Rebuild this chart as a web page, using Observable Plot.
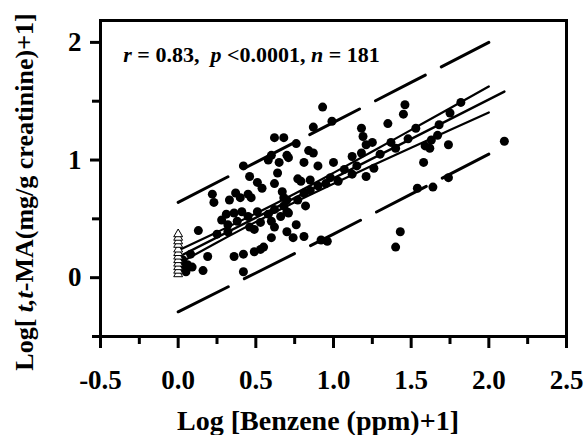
<!DOCTYPE html>
<html>
<head>
<meta charset="utf-8">
<script src="https://cdn.jsdelivr.net/npm/d3@7"></script>
<script src="https://cdn.jsdelivr.net/npm/@observablehq/plot@0.6"></script>
<style>
  html, body { margin: 0; padding: 0; background: #fff; }
  #chart svg { display: block; }
</style>
</head>
<body>
<div id="chart"></div>
<script>
// Filled circles: exposed workers (Log benzene+1, Log t,t-MA+1)
const dotX = [0.93,0.99,0.87,0.68,0.62,0.76,1.18,1.35,1.46,1.45,1.19,1.21,1.25,0.70,0.84,0.87,0.81,0.90,1.00,1.12,
  1.18,1.53,1.59,1.62,1.58,1.74,1.82,1.75,1.67,1.63,1.37,2.10,1.26,1.21,1.07,1.12,0.98,0.85,0.77,1.03,
  0.81,0.82,0.67,0.68,0.70,0.76,0.70,0.74,0.81,0.92,0.96,1.54,1.64,1.74,1.43,1.40,
  0.42,0.58,0.65,0.64,0.60,0.71,0.46,0.51,0.62,0.79,0.54,0.22,0.23,0.33,0.37,0.40,0.47,0.45,0.31,0.36,
  0.41,0.45,0.51,0.58,0.62,0.68,0.70,0.77,0.28,0.32,0.38,0.46,0.53,0.60,0.66,0.71,0.13,0.25,0.32,0.49,
  0.62,0.60,0.53,0.49,0.42,0.36,0.55,0.19,0.09,0.42,0.06,0.02,0.16,0.05,
  0.85,0.90,0.95,1.15,1.30,1.40,1.48,1.68,0.03,0.08];
const dotY = [1.45,1.33,1.28,1.19,1.19,1.14,1.27,1.31,1.47,1.39,1.20,1.13,1.15,1.04,1.08,1.06,0.98,0.95,0.98,1.03,
  1.06,1.27,1.12,1.10,0.98,1.13,1.49,1.40,1.21,1.17,1.15,1.16,0.93,0.86,0.92,0.88,0.85,0.83,0.84,0.82,
  0.72,0.61,0.73,0.68,0.56,0.45,0.39,0.34,0.35,0.32,0.31,0.76,0.77,0.85,0.39,0.26,
  0.95,1.00,0.98,0.89,1.04,1.02,0.86,0.81,0.80,0.82,0.76,0.71,0.64,0.66,0.72,0.68,0.68,0.71,0.54,0.55,
  0.56,0.52,0.56,0.54,0.58,0.61,0.66,0.66,0.49,0.45,0.48,0.43,0.47,0.48,0.52,0.55,0.40,0.37,0.39,0.41,
  0.43,0.34,0.24,0.22,0.20,0.18,0.26,0.18,0.09,0.05,0.11,0.09,0.06,0.05,
  0.74,0.78,0.80,0.95,1.05,1.10,1.18,1.30,0.15,0.20];

// Open triangles at Log benzene+1 = 0
const triY = [0.03,0.06,0.09,0.12,0.15,0.18,0.21,0.24,0.28,0.31,0.34,0.37];

// Regression line
const regX = [0, 2.1];
const regY = [0.175, 1.582];

// 95% confidence band (solid)
const bandX   = [0, 0.25, 0.5, 0.75, 1.0, 1.25, 1.5, 1.75, 2.0];
const ciUpper = [0.232, 0.387, 0.546, 0.714, 0.891, 1.072, 1.256, 1.440, 1.625];
const ciLower = [0.118, 0.299, 0.474, 0.641, 0.799, 0.953, 1.104, 1.255, 1.405];

// 95% prediction band (long dashes)
const predX     = [0, 0.5, 1.0, 1.5, 2.0];
const predUpper = [0.64, 0.98, 1.32, 1.66, 2.00];
const predLower = [-0.29, 0.04, 0.37, 0.71, 1.05];

// Axis ticks
const xMajor = [-0.5, 0, 0.5, 1.0, 1.5, 2.0, 2.5];
const xMinor = [-0.25, 0.25, 0.75, 1.25, 1.75, 2.25];
const yMajor = [0, 1, 2];
const yMinor = [-0.5, 0.5, 1.5];

const annX = -0.35, annY = 1.83;

const FONT = "'Liberation Serif', 'Times New Roman', serif";

const chart = Plot.plot({
  width: 586,
  height: 435,
  marginLeft: 100,
  marginRight: 20,
  marginTop: 20,
  marginBottom: 99,
  style: { fontFamily: FONT, fontWeight: "bold", background: "white", color: "black" },
  x: { domain: [-0.5, 2.5], label: null },
  y: { domain: [-0.5, 2.186], label: null },
  marks: [
    Plot.axisX(xMinor, { tickSize: 8, strokeWidth: 3, tickFormat: () => "", label: null }),
    Plot.axisX(xMajor, { tickSize: 12, strokeWidth: 3, tickPadding: 21, fontSize: 27,
      tickFormat: d => d.toFixed(1), label: null }),
    Plot.axisY(yMinor, { tickSize: 8, strokeWidth: 3, tickFormat: () => "", label: null }),
    Plot.axisY(yMajor, { tickSize: 10, strokeWidth: 3, tickPadding: 9, fontSize: 27,
      tickFormat: d => String(d), label: null }),
    Plot.lineY(predUpper, { x: predX, stroke: "black", strokeWidth: 3, strokeDasharray: "56,18" }),
    Plot.lineY(predLower, { x: predX, stroke: "black", strokeWidth: 3, strokeDasharray: "56,18" }),
    Plot.lineY(ciUpper, { x: bandX, stroke: "black", strokeWidth: 2.2, curve: "monotone-x" }),
    Plot.lineY(ciLower, { x: bandX, stroke: "black", strokeWidth: 2.2, curve: "monotone-x" }),
    Plot.lineY(regY, { x: regX, stroke: "black", strokeWidth: 2.4 }),
    Plot.dot(dotY, { x: dotX, y: dotY, r: 4.5, fill: "black" }),
    Plot.dot(triY, { x: triY.map(() => 0), y: triY, symbol: "triangle", r: 3.3,
      fill: "white", stroke: "black", strokeWidth: 1 }),
    Plot.frame({ stroke: "black", strokeWidth: 3 })
  ]
});

document.getElementById("chart").appendChild(chart);

const svg = d3.select(chart);
const xs = chart.scale("x"), ys = chart.scale("y");
const px = d3.scaleLinear(xs.domain, xs.range);
const py = d3.scaleLinear(ys.domain, ys.range);

// Annotation with italic r, p, n
const ann = svg.append("text")
  .attr("x", px(annX))
  .attr("y", py(annY))
  .attr("text-anchor", "start")
  .attr("font-family", FONT)
  .attr("font-weight", "bold")
  .attr("font-size", 22)
  .attr("fill", "black")
  .style("white-space", "pre");
ann.append("tspan").attr("font-style", "italic").text("r");
ann.append("tspan").text(" = 0.83,  ");
ann.append("tspan").attr("font-style", "italic").text("p");
ann.append("tspan").text(" <0.0001, ");
ann.append("tspan").attr("font-style", "italic").text("n");
ann.append("tspan").text(" = 181");

// X axis title
svg.append("text")
  .attr("x", 318)
  .attr("y", 430)
  .attr("text-anchor", "middle")
  .attr("font-family", FONT)
  .attr("font-weight", "bold")
  .attr("font-size", 28)
  .attr("fill", "black")
  .text("Log [Benzene (ppm)+1]");

// Y axis title (rotated) with italic t,t
const yt = svg.append("text")
  .attr("transform", "translate(33,192) rotate(-90)")
  .attr("text-anchor", "middle")
  .attr("font-family", FONT)
  .attr("font-weight", "bold")
  .attr("font-size", 26)
  .attr("fill", "black")
  .style("white-space", "pre");
yt.append("tspan").text("Log[ ");
yt.append("tspan").attr("font-style", "italic").text("t,t");
yt.append("tspan").text("-MA(mg/g creatinine)+1]");
</script>
</body>
</html>
